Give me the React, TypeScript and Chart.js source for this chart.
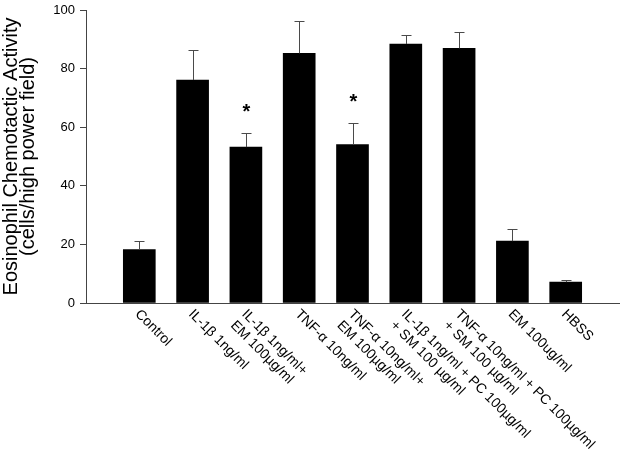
import { useEffect, useRef } from 'react';
import { Chart, registerables } from 'chart.js';

Chart.register(...registerables);

const categories: string[][] = [
  ['Control'],
  ['IL-1β 1ng/ml'],
  ['IL-1β 1ng/ml+', 'EM 100µg/ml'],
  ['TNF-α 10ng/ml'],
  ['TNF-α 10ng/ml+', 'EM 100µg/ml'],
  ['IL-1β 1ng/ml + PC 100µg/ml', '+ SM 100 µg/ml'],
  ['TNF-α 10ng/ml + PC 100µg/ml', '+ SM 100 µg/ml'],
  ['EM 100ug/ml'],
  ['HBSS'],
];
const means = [18.2, 76.1, 53.2, 85.2, 54.1, 88.4, 86.9, 21.1, 7.1];
const errors = [3.0, 10.1, 4.9, 10.9, 7.2, 3.1, 5.6, 4.0, 0.9];
const significant = [false, false, true, false, true, false, false, false, false];
const yTitle = ['Eosinophil Chemotactic Activity', '(cells/high power field)'];

const FONT = "'Liberation Sans', Arial, sans-serif";

const overlayPlugin = {
  id: 'overlay',
  afterDatasetsDraw(chart: any) {
    const ctx = chart.ctx;
    const xs = chart.scales.x;
    const ys = chart.scales.y;
    ctx.save();
    // error bars
    ctx.strokeStyle = '#4a4a4a';
    ctx.lineWidth = 1;
    means.forEach((m, i) => {
      const x = Math.round(xs.getPixelForValue(i + 1)) + 0.5;
      const yTop = ys.getPixelForValue(m);
      const yErr = ys.getPixelForValue(m + errors[i]);
      ctx.beginPath();
      ctx.moveTo(x, yTop);
      ctx.lineTo(x, Math.round(yErr) + 0.5);
      ctx.moveTo(x - 5, Math.round(yErr) + 0.5);
      ctx.lineTo(x + 5, Math.round(yErr) + 0.5);
      ctx.stroke();
      if (significant[i]) {
        ctx.fillStyle = '#000';
        ctx.font = `bold 20px ${FONT}`;
        ctx.textAlign = 'center';
        ctx.textBaseline = 'alphabetic';
        ctx.fillText('*', x, yErr - 15);
      }
    });
    // rotated category labels
    const axisY = xs.top;
    ctx.fillStyle = '#000';
    ctx.font = `14px ${FONT}`;
    ctx.textAlign = 'left';
    ctx.textBaseline = 'top';
    categories.forEach((lines, i) => {
      const x = xs.getPixelForValue(i + 1);
      ctx.save();
      ctx.translate(x + 3, axisY + 4);
      ctx.rotate(Math.PI / 4);
      lines.forEach((line, j) => {
        ctx.fillText(line, 0, j * 16);
      });
      ctx.restore();
    });
    ctx.restore();
  },
};

export default function App() {
  const ref = useRef<HTMLCanvasElement | null>(null);
  useEffect(() => {
    if (!ref.current) return;
    const chart = new Chart(ref.current, {
      type: 'bar',
      data: {
        labels: ['', ...categories.map((c) => c.join(' ')), ''],
        datasets: [
          {
            data: [null, ...means, null],
            backgroundColor: '#000',
            borderWidth: 0,
            barThickness: 32,
          },
        ],
      },
      options: {
        animation: false,
        responsive: true,
        maintainAspectRatio: false,
        layout: { padding: { top: 10, right: 6, bottom: 155, left: 0 } },
        plugins: { legend: { display: false }, tooltip: { enabled: false } },
        scales: {
          x: {
            offset: false,
            grid: { display: false },
            border: { display: true, color: '#444', width: 1 },
            ticks: { display: false },
            afterFit: (s: any) => {
              s.height = 0;
              s.paddingLeft = 0;
              s.paddingRight = 0;
            },
          },
          y: {
            min: 0,
            max: 100,
            ticks: {
              stepSize: 20,
              color: '#000',
              font: { family: FONT, size: 13 },
              padding: 5,
            },
            grid: { drawOnChartArea: false, tickLength: 6, color: '#444' },
            border: { display: true, color: '#444', width: 1 },
            title: {
              display: true,
              text: yTitle,
              color: '#000',
              font: { family: FONT, size: 20, lineHeight: 0.85 },
              padding: { top: 3, bottom: 0 },
            },
            afterFit: (s: any) => {
              s.width = 86;
              s.paddingTop = 0;
              s.paddingBottom = 0;
            },
          },
        },
      } as any,
      plugins: [overlayPlugin],
    });
    return () => chart.destroy();
  }, []);
  return (
    <div style={{ position: 'fixed', left: 0, top: 0, width: 625, height: 458 }}>
      <canvas ref={ref} />
    </div>
  );
}
